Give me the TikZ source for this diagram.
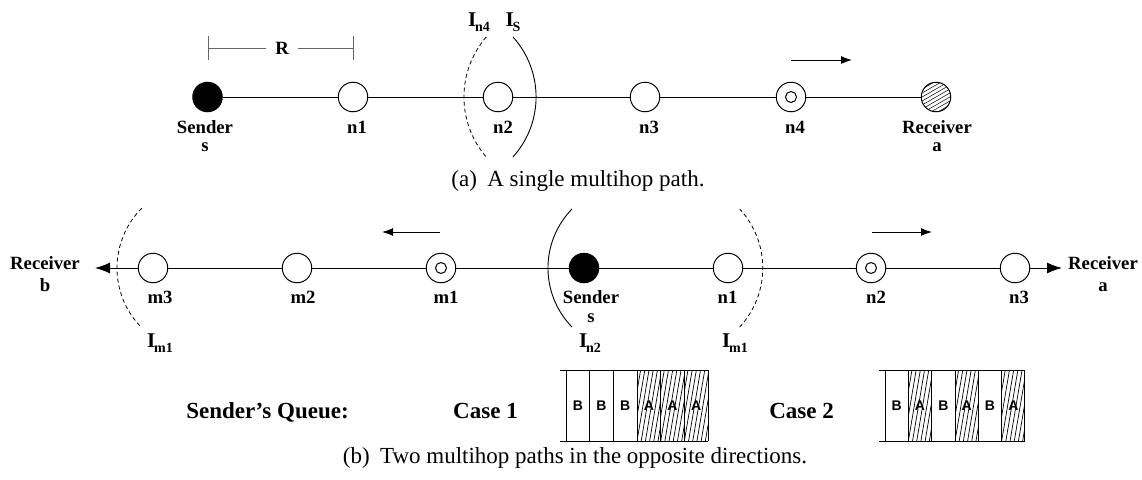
\documentclass[tikz,border=0pt]{standalone}
\usepackage{fontspec}
\setmainfont{Liberation Serif}
\newfontfamily\hvfont{Liberation Sans}
\usetikzlibrary{arrows.meta}
\newcommand\Isub[1]{I\kern-1.2pt\raisebox{-5pt}{\fontsize{14}{14}\selectfont #1}}
\begin{document}
\begin{tikzpicture}[x=1pt,y=-1pt,
  every node/.style={inner sep=0pt},
  wire/.style={line width=1pt},
  nd/.style={circle,draw,line width=1pt,minimum size=29.5pt,inner sep=0pt},
  snd/.style={nd,fill=black},
  rly/.style={nd,path picture={\draw[line width=1pt] (path picture bounding box.center) circle[radius=5.5pt];}},
  rcv/.style={nd,path picture={\foreach \k in {-40,-36,...,40}{\draw[line width=0.5pt] ([yshift=\k pt]path picture bounding box.center) ++(-20pt,-11.5pt) -- ++(40pt,23pt);}}},
  lab/.style={font=\fontsize{18.7}{17.5}\selectfont\bfseries, align=center, anchor=north},
  labw/.style={font=\fontsize{18.7}{22}\selectfont\bfseries, align=center, anchor=north},
  capt/.style={font=\fontsize{23}{27}\selectfont, anchor=base},
  ql/.style={font=\fontsize{23}{27}\selectfont\bfseries, anchor=base},
  ilab/.style={font=\fontsize{21}{21}\selectfont\bfseries},
  cellt/.style={font=\hvfont\bfseries\fontsize{14}{14}\selectfont},
  dir/.style={line width=1pt,-{Latex[length=11pt,width=8pt]}},
  dirbig/.style={line width=1pt,-{Latex[length=15pt,width=11pt]}},
  arcd/.style={line width=0.8pt,dash pattern=on 4pt off 3pt},
  arcs/.style={line width=0.9pt},
  rng/.style={line width=1pt,draw=black!60},
  hatch/.style={line width=0.7pt}]
\useasboundingbox (0,0) rectangle (1142,479);

% ---------- (a) single path ----------
\node[snd] (as) at (207.5,97) {};
\node[nd]  (an1) at (353,97) {};
\node[nd]  (an2) at (498,97) {};
\node[nd]  (an3) at (645,97) {};
\node[rly] (an4) at (791,97) {};
\node[rcv] (ara) at (936,97) {};
\draw[wire] (as) -- (an1) -- (an2) -- (an3) -- (an4) -- (ara);

\node[lab] (asl) at (205,120.6) {Sender\\s};
\node[lab] (an1l) at (357,120.6) {n1};
\node[lab] (an2l) at (503,120.6) {n2};
\node[lab] (an3l) at (649,120.6) {n3};
\node[lab] (an4l) at (795,120.6) {n4};
\node[lab] (aral) at (937,120.6) {Receiver\\a};

% range R
\node[font=\fontsize{18.7}{18.7}\selectfont\bfseries] (rlab) at (282,48) {R};
\coordinate (rl) at (208,48);
\coordinate (rr) at (353,48);
\draw[rng] (rl) -- ([xshift=-9pt]rlab.west);
\draw[rng] ([xshift=9pt]rlab.east) -- (rr);
\draw[rng] ([yshift=12pt]rl) -- ([yshift=-12pt]rl);
\draw[rng] ([yshift=12pt]rr) -- ([yshift=-12pt]rr);

% interference arcs
\draw[arcd] (486.2,37) arc[start angle=139.3, end angle=220.7, radius=92pt];
\draw[arcs] (512.9,157) arc[start angle=-42.2, end angle=42.2, radius=89.4pt];
\node[ilab] (iln4) at (479,22) {\Isub{n4}};
\node[ilab] (ils) at (513,22) {\Isub{S}};

% direction arrow
\coordinate (ad1) at (791,60);
\coordinate (ad2) at (852,60);
\draw[dir] (ad1) -- (ad2);

\node[capt] (capa) at (578,186) {(a)\hspace{0.45em}A single multihop path.};

% ---------- (b) two paths ----------
\node[nd]  (bm3) at (153,268) {};
\node[nd]  (bm2) at (297,268) {};
\node[rly] (bm1) at (441,268) {};
\node[snd] (bs)  at (584,268) {};
\node[nd]  (bn1) at (728,268) {};
\node[rly] (bn2) at (871,268) {};
\node[nd]  (bn3) at (1015,268) {};
\coordinate (tipb) at (95,268);
\coordinate (tipa) at (1062,268);
\draw[wire] (bm3) -- (bm2) -- (bm1) -- (bs) -- (bn1) -- (bn2) -- (bn3);
\draw[dirbig] (bm3) -- (tipb);
\draw[dirbig] (bn3) -- (tipa);

\node[labw] (rbl) at (45,256.6) {Receiver\\b};
\node[labw] (ral) at (1103,256.6) {Receiver\\a};
\node[lab] (bm3l) at (160,290.6) {m3};
\node[lab] (bm2l) at (303,290.6) {m2};
\node[lab] (bm1l) at (446,290.6) {m1};
\node[lab,font=\fontsize{18.7}{18.5}\selectfont\bfseries] (bsl) at (591,290.6) {Sender\\s};
\node[lab] (bn1l) at (727.5,290.6) {n1};
\node[lab] (bn2l) at (876,290.6) {n2};
\node[lab] (bn3l) at (1019,290.6) {n3};

\draw[arcd] (141.75,208.25) arc[start angle=135, end angle=225, radius=84.5pt];
\draw[arcs] (572.1,208.9) arc[start angle=135.6, end angle=224.4, radius=84.5pt];
\draw[arcd] (739.7,327) arc[start angle=-42.7, end angle=42.7, radius=87pt];
\node[ilab] (ilm1a) at (160,343) {\Isub{m1}};
\node[ilab] (iln2) at (590,343) {\Isub{n2}};
\node[ilab] (ilm1b) at (735,343) {\Isub{m1}};

\coordinate (bl1) at (440,232);
\coordinate (bl2) at (382,232);
\coordinate (br1) at (872,232);
\coordinate (br2) at (932,232);
\draw[dir] (bl1) -- (bl2);
\draw[dir] (br1) -- (br2);

% queues
\node[ql] (sq) at (267.5,418.3) {Sender’s Queue:};
\node[ql] (c1) at (485.5,418.3) {Case 1};
\node[ql] (c2) at (801.5,418.3) {Case 2};

% Case 1 box
\foreach \i in {3,4,5}{
  \begin{scope}
    \clip (566+\i*23.67,370) rectangle (566+\i*23.67+23.67,441);
    \foreach \j in {-4,...,8}{
      \draw[hatch] (566+\i*23.67+\j*4.2,441) -- (566+\i*23.67+\j*4.2+12,370);
    }
  \end{scope}
}
\draw[wire] (560,370) -- (708,370);
\draw[wire] (560,441) -- (708,441);
\foreach \i in {0,...,6}{
  \draw[wire] (566+\i*23.67,370) -- (566+\i*23.67,441);
}
\foreach \i/\t in {0/B,1/B,2/B,3/A,4/A,5/A}{
  \node[cellt] (qa\i) at (566+\i*23.67+11.8,406) {\t};
}

% Case 2 box
\foreach \i in {1,3,5}{
  \begin{scope}
    \clip (885+\i*23.33,370) rectangle (885+\i*23.33+23.33,441);
    \foreach \j in {-4,...,8}{
      \draw[hatch] (885+\i*23.33+\j*4.2,441) -- (885+\i*23.33+\j*4.2+12,370);
    }
  \end{scope}
}
\draw[wire] (879,370) -- (1025,370);
\draw[wire] (879,441) -- (1025,441);
\foreach \i in {0,...,6}{
  \draw[wire] (885+\i*23.33,370) -- (885+\i*23.33,441);
}
\foreach \i/\t in {0/B,1/A,2/B,3/A,4/B,5/A}{
  \node[cellt] (qb\i) at (885+\i*23.33+11.7,406) {\t};
}

\node[capt] (capb) at (575,463) {(b)\hspace{0.45em}Two multihop paths in the opposite directions.};
\end{tikzpicture}
\end{document}
